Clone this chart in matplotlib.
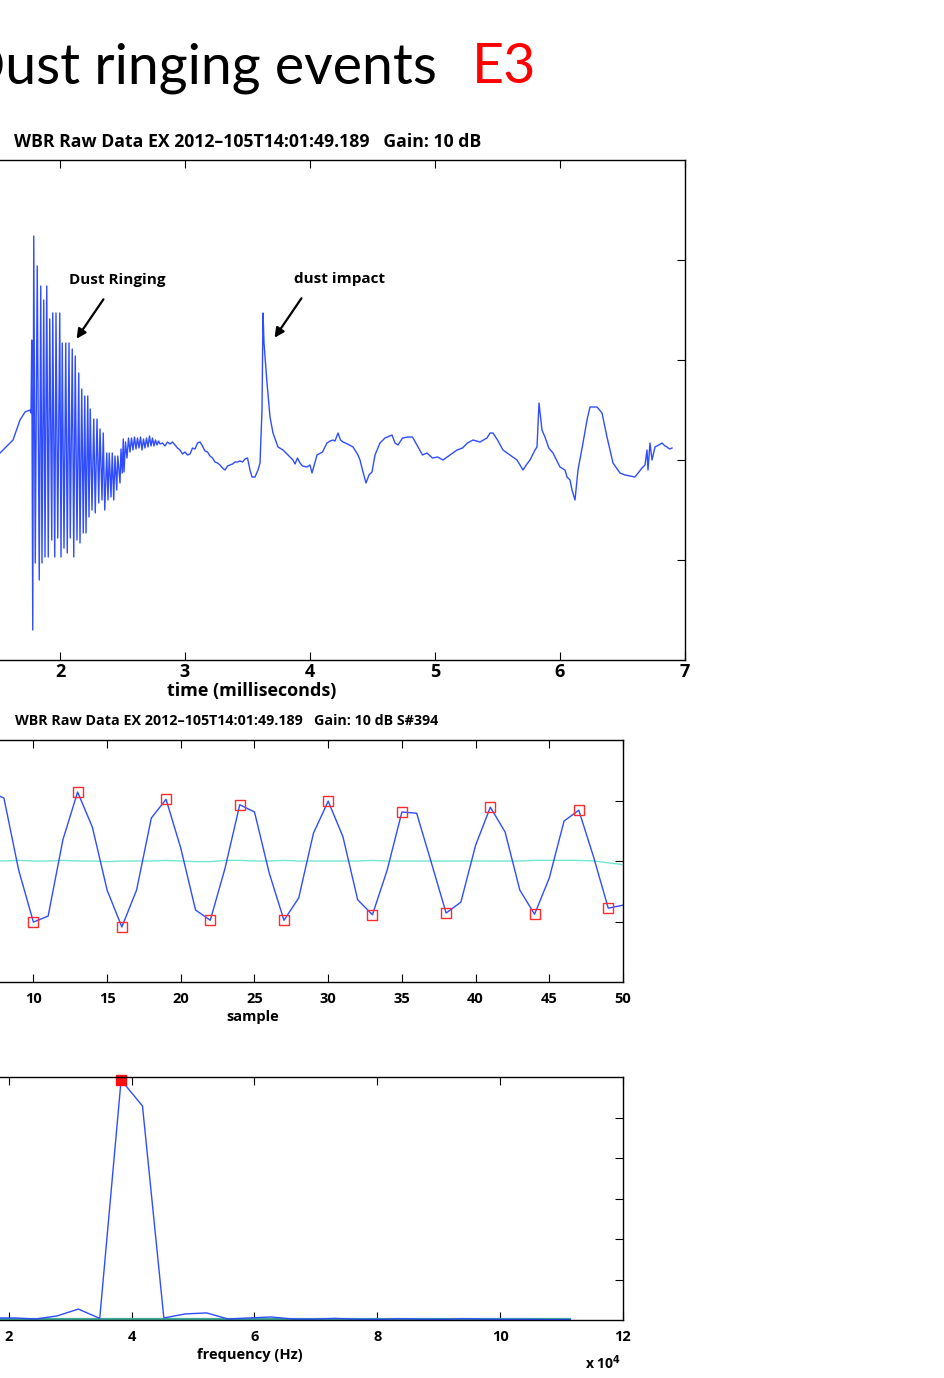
import matplotlib
matplotlib.use('Agg')
import matplotlib.pyplot as plt

W, H = 945, 1378

# ---- top panel: WBR waveform (ms, arbitrary units) ----
wave_t = [1.520, 1.624, 1.680, 1.720, 1.760, 1.768,
          1.774, 1.782, 1.790, 1.802, 1.818, 1.834, 1.846, 1.856, 1.870, 1.880,
          1.894, 1.906, 1.918, 1.934, 1.942, 1.958, 1.968, 1.982, 1.998, 2.008,
          2.018, 2.032, 2.046, 2.058, 2.072, 2.082, 2.098, 2.110, 2.122, 2.136,
          2.150, 2.160, 2.174, 2.186, 2.198, 2.208, 2.222, 2.232, 2.242, 2.256,
          2.270, 2.282, 2.296, 2.310, 2.320, 2.336, 2.346, 2.358, 2.374, 2.384,
          2.394, 2.408, 2.418, 2.430, 2.440, 2.454, 2.462, 2.480, 2.488, 2.498,
          2.506,
          2.512, 2.524, 2.536, 2.548, 2.560, 2.572, 2.584, 2.596, 2.608, 2.620,
          2.632, 2.644, 2.656, 2.668, 2.680, 2.692, 2.704, 2.716, 2.728, 2.740,
          2.752, 2.764, 2.776, 2.788, 2.800,
          2.82, 2.84, 2.86, 2.88, 2.90, 2.92, 2.94, 2.96, 2.98, 3.00, 3.02, 3.04,
          3.06, 3.08, 3.10, 3.12, 3.14, 3.16, 3.18, 3.20, 3.22, 3.24, 3.26, 3.28,
          3.30, 3.32, 3.34, 3.36, 3.38, 3.40, 3.42, 3.44, 3.46, 3.48, 3.50, 3.52,
          3.536, 3.56, 3.584, 3.60, 3.616, 3.624, 3.632, 3.656, 3.68, 3.704, 3.744,
          3.784, 3.824, 3.864, 3.88, 3.90, 3.92, 3.94, 3.976, 4.00, 4.016, 4.04,
          4.056, 4.10, 4.136, 4.16, 4.184, 4.20, 4.224, 4.244, 4.264, 4.30, 4.344,
          4.384, 4.40, 4.42, 4.448, 4.472, 4.496, 4.52, 4.56, 4.60, 4.656, 4.68,
          4.704, 4.74, 4.784, 4.82, 4.856, 4.90, 4.936, 4.98, 5.02, 5.064, 5.12,
          5.176, 5.22, 5.26, 5.304, 5.36, 5.416, 5.44, 5.464, 5.50, 5.544, 5.60,
          5.656, 5.68, 5.704, 5.73, 5.76, 5.80, 5.816, 5.832, 5.856, 5.88, 5.91,
          5.944, 5.98, 6.00, 6.04, 6.056, 6.08, 6.096, 6.12, 6.144, 6.184, 6.216,
          6.24, 6.296, 6.336, 6.376, 6.424, 6.48, 6.52, 6.60, 6.656, 6.68, 6.696,
          6.704, 6.72, 6.736, 6.76, 6.79, 6.816, 6.84, 6.856, 6.876, 6.896]
wave_v = [0.07, 0.20, 0.40, 0.48, 0.50, 0.47,
          1.20, -1.70, 2.24, -1.03, 1.94, -1.20, 1.74, -1.03, 1.60, -0.97,
          1.74, -0.97, 1.41, -0.80, 1.47, -0.97, 1.47, -0.78, 1.47, -0.97,
          1.17, -0.88, 1.17, -0.93, 1.17, -0.78, 1.11, -0.97, 1.04, -0.80,
          0.87, -0.83, 0.71, -0.73, 0.64, -0.73, 0.64, -0.57, 0.51, -0.50,
          0.41, -0.53, 0.41, -0.43, 0.31, -0.40, 0.27, -0.50, 0.07, -0.40,
          0.07, -0.37, 0.07, -0.40, 0.04, -0.30, 0.04, -0.23, 0.11, -0.13,
          0.21,
          -0.12, 0.18, 0.02, 0.22, 0.08, 0.22, 0.10, 0.23, 0.11, 0.22,
          0.12, 0.23, 0.10, 0.21, 0.12, 0.22, 0.13, 0.24, 0.14, 0.22,
          0.14, 0.20, 0.15, 0.19, 0.16,
          0.17, 0.14, 0.18, 0.16, 0.18, 0.15, 0.12, 0.10, 0.06, 0.08, 0.05, 0.06,
          0.12, 0.11, 0.17, 0.18, 0.14, 0.09, 0.08, 0.04, 0.02, -0.02, -0.03, -0.05,
          -0.08, -0.10, -0.06, -0.05, -0.04, -0.02, -0.02, -0.01, -0.02, 0.01, 0.02, -0.10,
          -0.17, -0.17, -0.10, -0.03, 0.50, 1.47, 1.17, 0.77, 0.43, 0.27, 0.13,
          0.10, 0.05, 0.00, -0.04, 0.02, -0.03, -0.06, -0.07, -0.05, -0.13, -0.02,
          0.05, 0.08, 0.17, 0.19, 0.20, 0.19, 0.27, 0.20, 0.18, 0.16, 0.13,
          0.05, 0.00, -0.10, -0.23, -0.15, -0.12, 0.05, 0.17, 0.22, 0.25, 0.17,
          0.15, 0.22, 0.23, 0.23, 0.15, 0.05, 0.07, 0.02, 0.03, 0.00, 0.05,
          0.10, 0.12, 0.17, 0.20, 0.18, 0.22, 0.27, 0.27, 0.20, 0.10, 0.05,
          0.00, -0.05, -0.10, -0.05, 0.00, 0.10, 0.13, 0.57, 0.30, 0.23, 0.12,
          0.07, -0.02, -0.07, -0.10, -0.17, -0.20, -0.30, -0.40, -0.10, 0.17, 0.40,
          0.53, 0.53, 0.47, 0.23, -0.03, -0.13, -0.15, -0.17, -0.08, -0.05, 0.10,
          -0.10, 0.17, 0.00, 0.13, 0.15, 0.17, 0.14, 0.13, 0.11, 0.12]

# ---- middle panel: 50 samples ----
samples = list(range(7, 51))
samp_v = [1.15, 1.04, -0.15, -1.01, -0.91, 0.35, 1.14, 0.56, -0.48, -1.09,
          -0.48, 0.71, 1.02, 0.21, -0.81, -0.98, -0.12, 0.93, 0.81, -0.20,
          -0.98, -0.61, 0.46, 0.99, 0.40, -0.64, -0.89, -0.15, 0.81, 0.79,
          -0.03, -0.86, -0.68, 0.26, 0.89, 0.48, -0.48, -0.88, -0.28, 0.66,
          0.84, 0.07, -0.78, -0.73]
samp_ref = [0.00, 0.00, 0.01, 0.00, 0.00, 0.01, 0.00, 0.00, -0.01, 0.00,
            0.00, 0.00, 0.01, 0.00, -0.01, -0.01, 0.01, 0.01, 0.00, 0.00,
            0.01, 0.00, 0.00, 0.00, 0.00, 0.00, 0.01, 0.00, 0.00, 0.00,
            0.00, 0.00, 0.00, 0.00, 0.00, 0.00, 0.00, 0.01, 0.01, 0.01,
            0.01, 0.00, -0.03, -0.06]
extrema = [10, 13, 16, 19, 22, 24, 27, 30, 33, 35, 38, 41, 44, 47, 49]

# ---- bottom panel: spectrum (x 1e4 Hz) ----
freq = [0, 0.348, 0.696, 1.044, 1.392, 1.740, 2.088, 2.436, 2.784, 3.132,
        3.480, 3.828, 4.176, 4.524, 4.872, 5.220, 5.568, 5.916, 6.264, 6.612,
        6.960, 7.308, 7.656, 8.004, 8.352, 8.700, 9.048, 9.396, 9.744, 10.092,
        10.440, 10.788, 11.136]
spec = [0.02, 0.01, 0.005, 0.01, 0.008, 0.01, 0.01, 0.005, 0.02, 0.054,
        0.008, 1.185, 1.057, 0.01, 0.03, 0.035, 0.005, 0.01, 0.015, 0.005,
        0.004, 0.008, 0.004, 0.003, 0.006, 0.004, 0.003, 0.006, 0.004, 0.003,
        0.003, 0.002, 0.002]
spec_ref = [0.003] * len(freq)
peak_k = 11

BLUE = '#2f4dff'
CYAN = '#72e6cf'
FONT = 'Open Sans'


def px_rect(left, top, right, bottom):
    return [left / W, 1 - bottom / H, (right - left) / W, (bottom - top) / H]


def style_axes(ax, fs, pad):
    ax.tick_params(direction='in', top=True, right=True, length=6, width=0.8,
                   labelleft=False, labelsize=fs, pad=pad)
    for lab in ax.get_xticklabels():
        lab.set_fontfamily(FONT)
        lab.set_fontweight('bold')
    for s in ax.spines.values():
        s.set_linewidth(1.0)


fig = plt.figure(figsize=(W / 100, H / 100), dpi=100)

# slide title (left edge of the slide is cropped off)
fig.text(437 / W, 1 - 83 / H, 'Dust ringing events', ha='right', va='baseline',
         fontsize=40, family='Lato')
fig.text(472 / W, 1 - 83 / H, 'E3', ha='left', va='baseline',
         fontsize=40, family='Lato', color='#ff0000')

# top panel
ax1 = fig.add_axes(px_rect(-190, 160, 685, 660))
ax1.plot(wave_t, wave_v, color=BLUE, lw=1.0)
ax1.set_xlim(0, 7)
ax1.set_ylim(-2, 3)
ax1.set_xticks([2, 3, 4, 5, 6, 7])
ax1.set_yticks([-1, 0, 1, 2])
style_axes(ax1, 13, 2)
ax1.text(2.456, 1.80, 'Dust Ringing', ha='center', va='center', fontsize=11,
         family=FONT, fontweight='bold')
ax1.annotate('', xy=(2.12, 1.19), xytext=(2.36, 1.63),
             arrowprops=dict(arrowstyle='-|>', color='k', lw=1.6, mutation_scale=14))
ax1.text(4.24, 1.81, 'dust impact', ha='center', va='center', fontsize=11,
         family=FONT, fontweight='bold')
ax1.annotate('', xy=(3.704, 1.20), xytext=(3.944, 1.64),
             arrowprops=dict(arrowstyle='-|>', color='k', lw=1.6, mutation_scale=14))
fig.text(14 / W, 1 - 142 / H, 'WBR Raw Data EX 2012\u2013105T14:01:49.189   Gain: 10 dB',
         ha='left', va='center', fontsize=12.7, family=FONT, fontweight='bold')
fig.text(252 / W, 1 - 691 / H, 'time (milliseconds)', ha='center', va='center',
         fontsize=13, family=FONT, fontweight='bold')

# middle panel
ax2 = fig.add_axes(px_rect(-114, 740, 623, 982))
ax2.plot(samples, samp_ref, color=CYAN, lw=1.0)
ax2.plot(samples, samp_v, color=BLUE, lw=1.0)
ax2.plot(extrema, [samp_v[samples.index(n)] for n in extrema], 's', ms=7,
         mfc='none', mec='#ff2a2a', mew=1.0)
ax2.set_xlim(0, 50)
ax2.set_ylim(-2, 2)
ax2.set_xticks([10, 15, 20, 25, 30, 35, 40, 45, 50])
ax2.set_yticks([-1, 0, 1])
style_axes(ax2, 10.5, 7)
fig.text(15 / W, 1 - 721 / H, 'WBR Raw Data EX 2012\u2013105T14:01:49.189   Gain: 10 dB S#394',
         ha='left', va='center', fontsize=10.3, family=FONT, fontweight='bold')
fig.text(253 / W, 1 - 1017 / H, 'sample', ha='center', va='center',
         fontsize=10.5, family=FONT, fontweight='bold')

# bottom panel
ax3 = fig.add_axes(px_rect(-114, 1077, 623, 1320))
ax3.plot(freq, spec_ref, color='#3fa894', lw=1.6, clip_on=False)
ax3.plot(freq, spec, color=BLUE, lw=1.0)
ax3.plot([freq[peak_k]], [spec[peak_k]], 's', ms=7, color='#ff1010', clip_on=False)
ax3.set_xlim(0, 12)
ax3.set_ylim(0, 1.2)
ax3.set_xticks([2, 4, 6, 8, 10, 12])
ax3.set_yticks([0.2, 0.4, 0.6, 0.8, 1.0])
style_axes(ax3, 10.5, 7)
fig.text(250 / W, 1 - 1355 / H, 'frequency (Hz)', ha='center', va='center',
         fontsize=10.5, family=FONT, fontweight='bold')
fig.text(585 / W, 1 - 1363 / H, 'x 10$^{\\mathbf{4}}$', ha='left', va='center',
         fontsize=10, family=FONT, fontweight='bold')

fig.savefig('out.png', dpi=100)
